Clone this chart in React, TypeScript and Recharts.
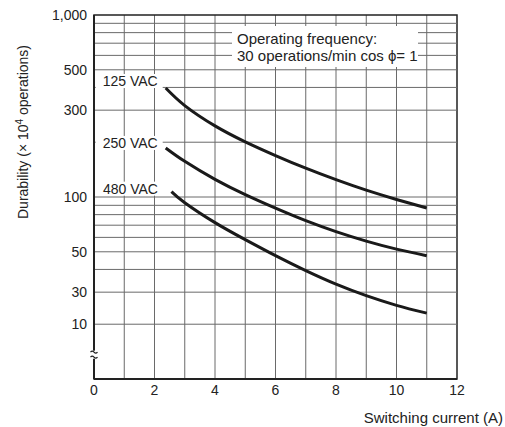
import { LineChart, Line, XAxis, YAxis, CartesianGrid, ReferenceArea, ReferenceDot, ReferenceLine } from "recharts";

// Switching current (A) vs durability (x10^4 operations)
const currents125 = [2.37, 3, 4, 5, 6, 7, 8, 9, 10, 11];
const durability125 = [397, 318, 246, 201, 169, 144, 124.5, 109, 96.9, 87];
const currents250 = [2.37, 3, 4, 5, 6, 7, 8, 9, 10, 11];
const durability250 = [186, 157, 125, 103, 86.8, 74.1, 64.5, 57.2, 51.7, 47.6];
const currents480 = [2.56, 3, 4, 5, 6, 7, 8, 9, 10, 11];
const durability480 = [107, 93, 72.3, 58.3, 47.6, 39.4, 33.2, 28.7, 25.4, 23];

const xTicks = [0, 2, 4, 6, 8, 10, 12];
const xGrid = [1, 2, 3, 4, 5, 6, 7, 8, 9, 10, 11];
// axis is broken below 30: the "10" label sits where 20 would be on the log scale
const yTicks = [20, 30, 50, 100, 300, 500, 1000];
const yTickLabels = ["10", "30", "50", "100", "300", "500", "1,000"];
const yGrid = [20, 30, 40, 50, 60, 70, 80, 90, 100, 200, 300, 400, 500, 600, 700, 800, 900];

const toSeries = (xs: number[], ys: number[]) => xs.map((x, i) => ({ current: x, durability: ys[i] }));
const series125 = toSeries(currents125, durability125);
const series250 = toSeries(currents250, durability250);
const series480 = toSeries(currents480, durability480);

const FONT = "'Liberation Sans', Arial, sans-serif";
const INK = "#222";
const GRID = "#6a6a6a";

const curveLabel = (text: string, dx: number, dy: number) => (p: any) => {
  if (p.index !== 0) return null;
  const right = p.x + dx;
  const cy = p.y + dy;
  return (
    <g>
      <rect x={right - 62} y={cy - 7} width={67} height={14} fill="#fff" />
      <text x={right} y={cy} dy="0.35em" textAnchor="end" fontSize={14} fontFamily={FONT} fill={INK}>
        {text}
      </text>
    </g>
  );
};

const AxisBreak = (p: any) => {
  const { cx, cy } = p;
  return (
    <g>
      <rect x={cx - 3} y={cy - 4} width={6} height={8} fill="#fff" />
      <path d={`M${cx - 3.5} ${cy - 2.5} q1.75 -2 3.5 0 t3.5 0`} stroke={INK} fill="none" strokeWidth={1.2} />
      <path d={`M${cx - 3.5} ${cy + 2.5} q1.75 -2 3.5 0 t3.5 0`} stroke={INK} fill="none" strokeWidth={1.2} />
    </g>
  );
};

const YTitle = () => (
  <text
    x={23}
    y={132}
    transform="rotate(-90 23 132)"
    textAnchor="middle"
    dy="0.35em"
    fontSize={14}
    fontFamily={FONT}
    fill={INK}
  >
    Durability (× 10
    <tspan dy={-5} fontSize={10}>4</tspan>
    <tspan dy={5}> operations)</tspan>
  </text>
);

const XTitle = () => (
  <text x={503} y={423} textAnchor="end" fontSize={15} fontFamily={FONT} fill={INK}>
    Switching current (A)
  </text>
);

export default function App() {
  return (
    <div style={{ position: "absolute", left: 0, top: 0, width: 505, height: 427, background: "#fff", fontFamily: FONT }}>
      <LineChart width={505} height={427} margin={{ top: 15, right: 48, bottom: 0, left: 0 }}>
        <CartesianGrid stroke={GRID} strokeWidth={1} horizontal={false} verticalValues={xGrid} syncWithTicks={false} />
        {yGrid.map((v) => (
          <ReferenceLine key={v} y={v} stroke={GRID} strokeWidth={1} />
        ))}
        <XAxis
          dataKey="current"
          type="number"
          domain={[0, 12]}
          ticks={xTicks}
          allowDuplicatedCategory={false}
          height={48}
          tickSize={0}
          tickMargin={6}
          axisLine={{ stroke: INK, strokeWidth: 2 }}
          tick={{ fill: INK, fontSize: 14, fontFamily: FONT }}
          label={<XTitle />}
        />
        <YAxis
          type="number"
          scale="log"
          domain={[10, 1000]}
          allowDataOverflow
          ticks={yTicks}
          tickFormatter={(v: number) => yTickLabels[yTicks.indexOf(v)] ?? String(v)}
          width={94}
          tickSize={0}
          tickMargin={7}
          axisLine={{ stroke: INK, strokeWidth: 2 }}
          tick={{ fill: INK, fontSize: 14, fontFamily: FONT }}
          label={<YTitle />}
        />
        <ReferenceArea x1={0} x2={12} y1={10} y2={1000} fill="none" stroke={INK} strokeWidth={1.5} />
        <ReferenceDot x={0} y={13.6} r={4} shape={AxisBreak} />
        <Line
          data={series125}
          dataKey="durability"
          type="natural"
          stroke="#1a1a1a"
          strokeWidth={3}
          dot={false}
          isAnimationActive={false}
          label={curveLabel("125 VAC", -8, -7)}
        />
        <Line
          data={series250}
          dataKey="durability"
          type="natural"
          stroke="#1a1a1a"
          strokeWidth={3}
          dot={false}
          isAnimationActive={false}
          label={curveLabel("250 VAC", -8, -5)}
        />
        <Line
          data={series480}
          dataKey="durability"
          type="natural"
          stroke="#1a1a1a"
          strokeWidth={3}
          dot={false}
          isAnimationActive={false}
          label={curveLabel("480 VAC", -13.5, -3)}
        />
      </LineChart>
      <div
        style={{
          position: "absolute",
          left: 232,
          top: 26,
          width: 186,
          height: 41,
          paddingTop: 4,
          paddingLeft: 5,
          boxSizing: "border-box",
          background: "#fff",
          fontSize: 15,
          lineHeight: "17px",
          color: INK,
          whiteSpace: "nowrap",
        }}
      >
        <div>Operating frequency:</div>
        <div>30 operations/min cos ϕ= 1</div>
      </div>
    </div>
  );
}
